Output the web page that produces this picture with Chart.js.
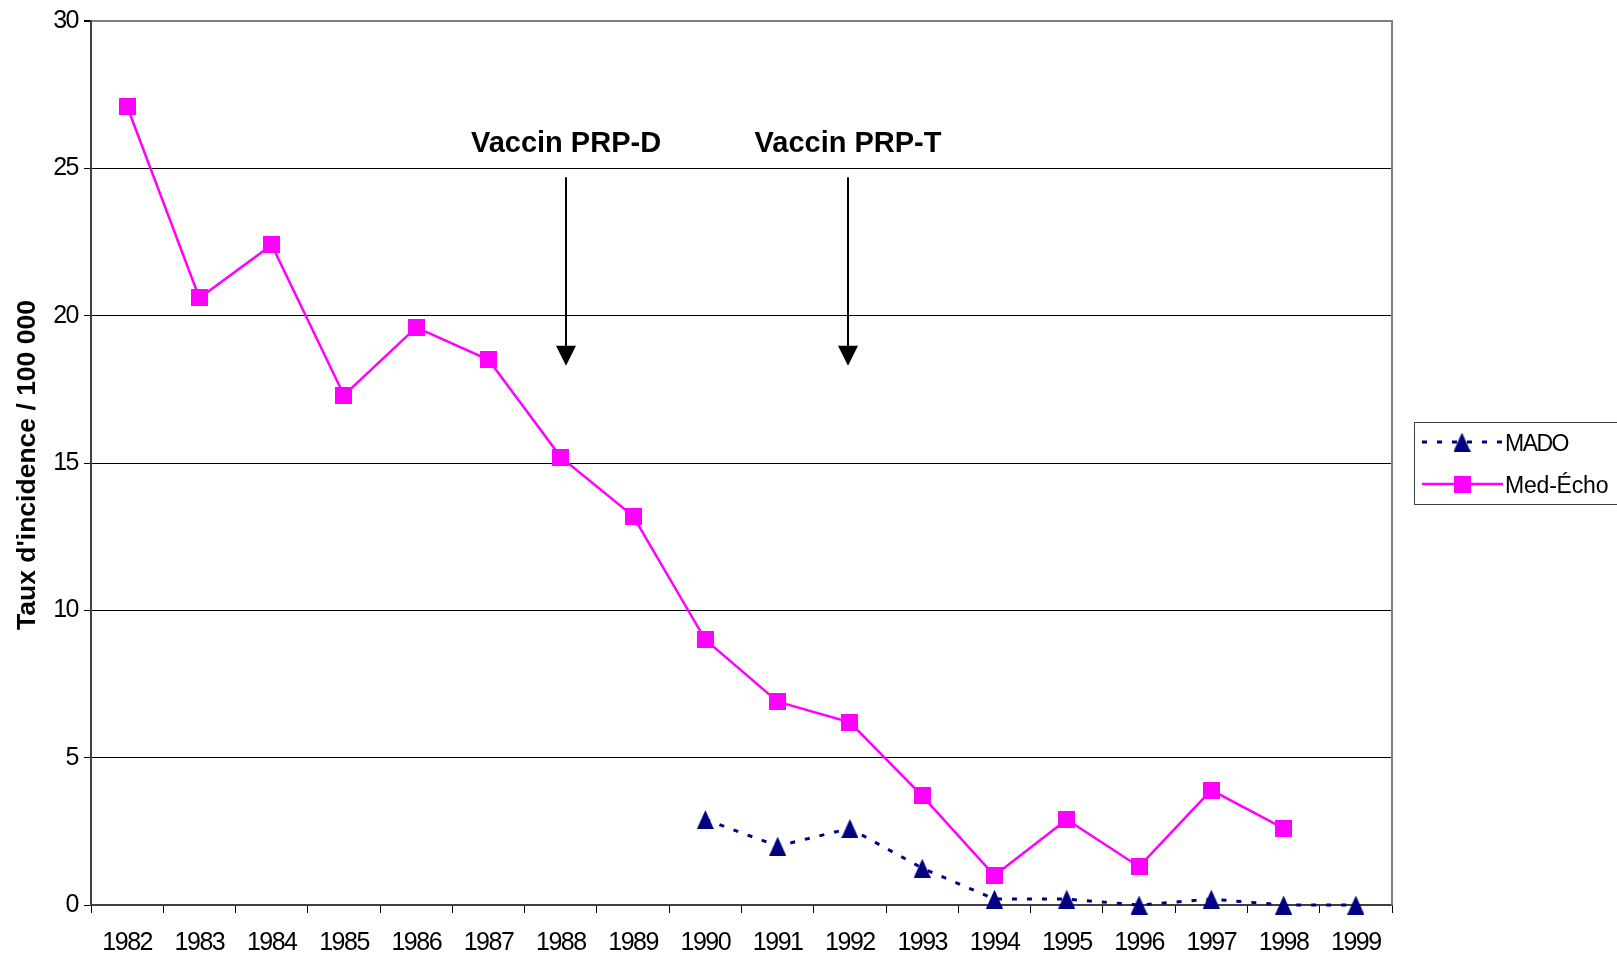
<!DOCTYPE html>
<html><head><meta charset="utf-8">
<script src="https://cdn.jsdelivr.net/npm/chart.js@4/dist/chart.umd.min.js"></script>
<style>html,body{margin:0;padding:0;background:#fff}canvas{display:block}</style>
</head><body>
<canvas id="c" width="1617" height="957"></canvas>
<script>
const years = ['1982','1983','1984','1985','1986','1987','1988','1989','1990','1991','1992','1993','1994','1995','1996','1997','1998','1999'];
const madoValues = [null,null,null,null,null,null,null,null,2.9,2.0,2.6,1.25,0.2,0.2,0.0,0.2,0.0,0.0];
const medEchoValues = [27.1,20.6,22.4,17.3,19.6,18.5,15.2,13.2,9.0,6.9,6.2,3.7,1.0,2.9,1.3,3.9,2.6,null];
const seriesNames = ['MADO','Med-Écho'];
const yTickValues = [0,5,10,15,20,25,30];
const yTitle = "Taux d'incidence / 100 000";
const annotationLabels = ['Vaccin PRP-D','Vaccin PRP-T'];
const annotationCategory = [6.07, 9.97];   // position in category units
const arrowStartValue = 24.7, arrowEndValue = 18.3, labelValue = 25.55;

const FONT = "'Liberation Sans', Arial, sans-serif";
const NAVY = '#000080', MAGENTA = '#FF00FF';

function triangleMarker(){
  const c = document.createElement('canvas'); c.width = 17; c.height = 19;
  const g = c.getContext('2d'); g.fillStyle = NAVY;
  g.beginPath(); g.moveTo(8.5,0); g.lineTo(17,19); g.lineTo(0,19); g.closePath(); g.fill();
  return c;
}
function squareMarker(){
  const c = document.createElement('canvas'); c.width = 17; c.height = 17;
  const g = c.getContext('2d'); g.fillStyle = MAGENTA;
  g.fillRect(0,0,17,17);
  return c;
}
const tri = triangleMarker(), sq = squareMarker();

const extras = {
  id: 'extras',
  beforeDraw(chart){ chart.ctx.letterSpacing = '-1.5px'; },
  afterDraw(chart){
    const ctx = chart.ctx, a = chart.chartArea;
    ctx.letterSpacing = '0px';
    const xs = chart.scales.x, ys = chart.scales.y;
    ctx.save();
    // right border of plot area
    ctx.strokeStyle = '#808080'; ctx.lineWidth = 2;
    ctx.beginPath(); ctx.moveTo(a.right, a.top - 1); ctx.lineTo(a.right, a.bottom); ctx.stroke();

    // y title
    ctx.save();
    ctx.translate(35, (a.top + a.bottom)/2 + 2);
    ctx.rotate(-Math.PI/2);
    ctx.font = 'bold 26.5px ' + FONT; ctx.fillStyle = '#000';
    ctx.textAlign = 'center'; ctx.textBaseline = 'alphabetic';
    ctx.fillText(yTitle, 0, 0);
    ctx.restore();

    // annotations with arrows
    const step = (xs.getPixelForValue(1) - xs.getPixelForValue(0));
    annotationLabels.forEach((lab, i) => {
      const x = Math.round(xs.getPixelForValue(0) + annotationCategory[i]*step);
      const y0 = ys.getPixelForValue(arrowStartValue), y1 = ys.getPixelForValue(arrowEndValue);
      ctx.font = 'bold 29px ' + FONT; ctx.fillStyle = '#000';
      ctx.textAlign = 'center'; ctx.textBaseline = 'alphabetic';
      ctx.fillText(lab, x, ys.getPixelForValue(labelValue));
      ctx.strokeStyle = '#000'; ctx.lineWidth = 2;
      ctx.beginPath(); ctx.moveTo(x, y0); ctx.lineTo(x, y1 - 18); ctx.stroke();
      ctx.beginPath(); ctx.moveTo(x - 10, y1 - 20); ctx.lineTo(x + 10, y1 - 20); ctx.lineTo(x, y1); ctx.closePath(); ctx.fill();
    });

    // legend
    const lx = 1414.5, ly = 422.5, lw = 260, lh = 82;
    ctx.fillStyle = '#fff'; ctx.fillRect(lx, ly, lw, lh);
    ctx.strokeStyle = '#404040'; ctx.lineWidth = 1; ctx.strokeRect(lx, ly, lw, lh);
    const rows = [{y: 442, ds: chart.data.datasets[0]}, {y: 484, ds: chart.data.datasets[1]}];
    rows.forEach((r, i) => {
      ctx.strokeStyle = r.ds.borderColor; ctx.lineWidth = r.ds.borderWidth;
      ctx.setLineDash(r.ds.borderDash || []);
      ctx.beginPath(); ctx.moveTo(1422, r.y); ctx.lineTo(1503, r.y); ctx.stroke();
      ctx.setLineDash([]);
      const img = r.ds.pointStyle;
      ctx.drawImage(img, 1462 - img.width/2, r.y - img.height/2);
      ctx.fillStyle = '#000'; ctx.font = '23px ' + FONT;
      ctx.textAlign = 'left'; ctx.textBaseline = 'alphabetic';
      ctx.letterSpacing = i === 0 ? '-1.5px' : '-0.2px';
      ctx.fillText(seriesNames[i], 1505, r.y + 9);
      ctx.letterSpacing = '0px';
    });
    ctx.restore();
  }
};

new Chart(document.getElementById('c'), {
  type: 'line',
  data: {
    labels: years,
    datasets: [
      { label: seriesNames[0], data: madoValues, borderColor: NAVY, backgroundColor: NAVY,
        borderWidth: 3, borderDash: [5,10], pointStyle: tri, pointRadius: 9, pointHoverRadius: 9,
        tension: 0, clip: false, fill: false },
      { label: seriesNames[1], data: medEchoValues, borderColor: MAGENTA, backgroundColor: MAGENTA,
        borderWidth: 2.5, pointStyle: sq, pointRadius: 9, pointHoverRadius: 9,
        tension: 0, clip: false, fill: false }
    ]
  },
  options: {
    responsive: false, animation: false, devicePixelRatio: 1,
    layout: { padding: { left: 0, top: 21, right: 225, bottom: 0 } },
    plugins: { legend: { display: false }, tooltip: { enabled: false }, title: { display: false } },
    scales: {
      x: {
        type: 'category', offset: true,
        grid: { display: true, drawOnChartArea: false, drawTicks: true, tickLength: 8, offset: true, color: '#000', lineWidth: 1 },
        border: { display: true, color: '#404040', width: 2 },
        ticks: { color: '#000', font: { family: FONT, size: 25 }, padding: 15, maxRotation: 0, autoSkip: false },
        afterFit(s){ s.height = 52; }
      },
      y: {
        min: 0, max: 30,
        afterBuildTicks(s){ s.ticks = yTickValues.map(v => ({ value: v })); },
        grid: {
          color: c => (c.tick && c.tick.value === 30) ? '#808080' : '#000',
          lineWidth: c => (c.tick && c.tick.value === 30) ? 2 : 1,
          tickLength: 7, tickColor: '#000', drawTicks: true
        },
        border: { display: true, color: '#404040', width: 2 },
        ticks: { color: '#000', font: { family: FONT, size: 25 }, padding: 6 },
        afterFit(s){ s.width = 91; }
      }
    }
  },
  plugins: [extras]
});
</script>
</body></html>
